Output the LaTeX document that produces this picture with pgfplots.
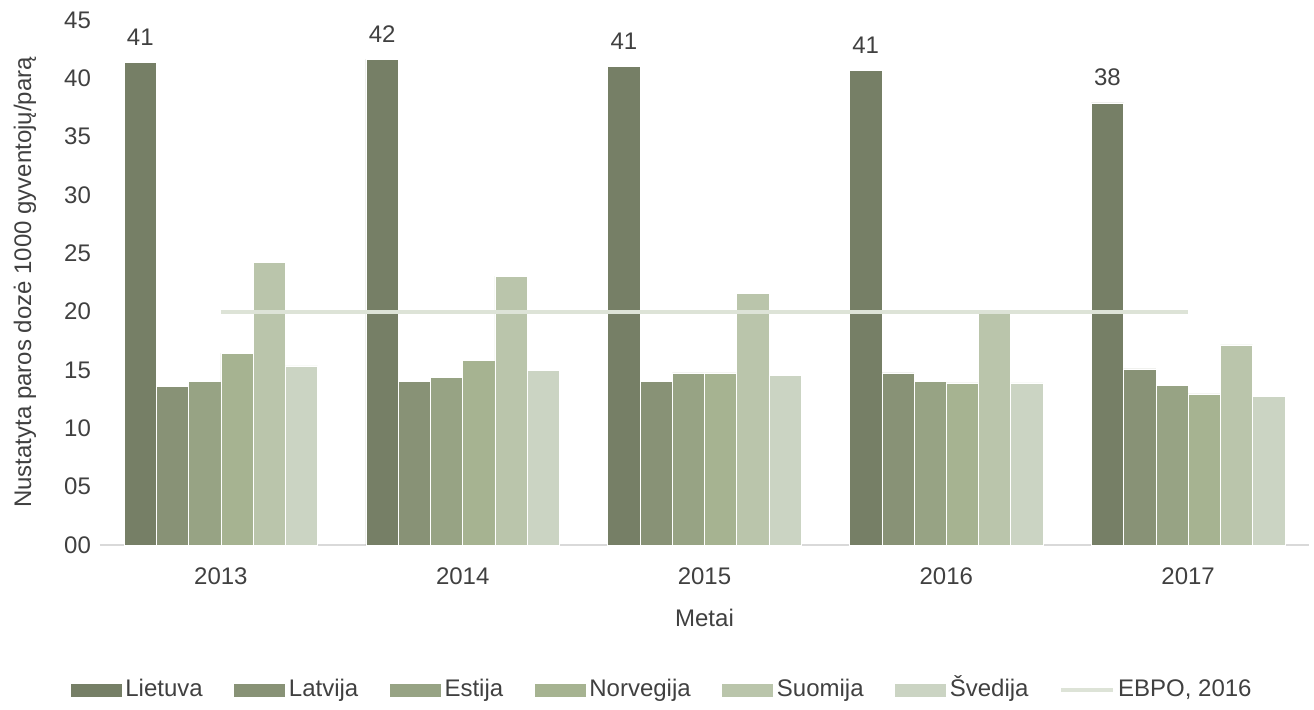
\documentclass[border=0pt]{standalone}
\usepackage{pgfplots}
\pgfplotsset{compat=1.18}
\usepackage{pgfplotstable}
\usepackage{fontspec}
\setmainfont{Liberation Sans}
\definecolor{cLt}{HTML}{767F66}
\definecolor{cLv}{HTML}{889276}
\definecolor{cEe}{HTML}{97A384}
\definecolor{cNo}{HTML}{A6B391}
\definecolor{cFi}{HTML}{BAC5AB}
\definecolor{cSe}{HTML}{CBD4C3}
\definecolor{cLine}{HTML}{DDE3D7}
\definecolor{cAxis}{HTML}{D9D9D9}
\definecolor{cText}{HTML}{404040}
\pgfplotsset{
  barlegend/.style={legend image code/.code={\fill[##1] (0pt,-3.5pt) rectangle (26pt,3.5pt);}},
  linelegend/.style={legend image code/.code={\draw[##1] (0pt,0pt) -- (26pt,0pt);}},
}
\pgfplotstableread{
x Lt Lv Ee No Fi Se Ebpo
0 41.4 13.6 14.0 16.45 24.2 15.35 20
1 41.65 14.05 14.4 15.85 23.05 15.0 20
2 41.05 14.05 14.75 14.75 21.6 14.55 20
3 40.7 14.75 14.05 13.9 20.05 13.9 20
4 37.9 15.1 13.7 12.95 17.15 12.75 20
}\datatable
\begin{document}
\begin{tikzpicture}
\begin{axis}[
  name=ax,
  scale only axis,
  width=604.5pt, height=262.5pt,
  font=\fontsize{12}{14}\selectfont,
  every tick label/.append style={text=cText},
  xmin=-0.5, xmax=4.5, ymin=0, ymax=45,
  xtick={0,1,2,3,4},
  xticklabels={2013,2014,2015,2016,2017},
  ytick={0,5,...,45},
  yticklabels={00,05,10,15,20,25,30,35,40,45},
  major tick length=0pt,
  axis x line*=bottom,
  axis y line*=left,
  x axis line style={draw=cAxis, line width=1pt, -},
  y axis line style={draw=none},
  xticklabel style={yshift=-8pt},
  yticklabel style={xshift=-1pt},
  xlabel={Metai},
  ylabel={Nustatyta paros dozė 1000 gyventojų/parą},
  label style={text=cText},
  xlabel style={at={([yshift=-36.5pt]axis description cs:0.5,0)}, anchor=center},
  ylabel style={at={([xshift=-37.5pt]axis description cs:0,0.5)}, anchor=center},
  clip=false,
  bar width=0.1333,
  legend columns=7,
  legend style={at={([yshift=-72.5pt]axis description cs:0.465,0)}, anchor=center,
    draw=none, fill=none, font=\fontsize{12}{14}\selectfont, text=cText,
    /tikz/every even column/.append style={column sep=13.8pt},
    nodes={inner sep=1.5pt, text height=1.8ex, text depth=0.5ex}},
  barlegend,
]
\addplot[ybar, bar shift=-0.3333, fill=cLt, draw=white, line width=0.3pt,
  nodes near coords={\pgfmathprintnumber[fixed,precision=0,assume math mode=true]{\pgfplotspointmeta}},
  nodes near coords style={text=cText, xshift=-40.3pt, yshift=5pt, font=\fontsize{12}{14}\selectfont}]
  table[x=x,y=Lt]{\datatable};
\addlegendentry{Lietuva}
\addplot[ybar, bar shift=-0.2, fill=cLv, draw=white, line width=0.3pt] table[x=x,y=Lv]{\datatable};
\addlegendentry{Latvija}
\addplot[ybar, bar shift=-0.0667, fill=cEe, draw=white, line width=0.3pt] table[x=x,y=Ee]{\datatable};
\addlegendentry{Estija}
\addplot[ybar, bar shift=0.0667, fill=cNo, draw=white, line width=0.3pt] table[x=x,y=No]{\datatable};
\addlegendentry{Norvegija}
\addplot[ybar, bar shift=0.2, fill=cFi, draw=white, line width=0.3pt] table[x=x,y=Fi]{\datatable};
\addlegendentry{Suomija}
\addplot[ybar, bar shift=0.3333, fill=cSe, draw=white, line width=0.3pt] table[x=x,y=Se]{\datatable};
\addlegendentry{Švedija}
\addplot[sharp plot, draw=cLine, line width=2pt, mark=none, linelegend] table[x=x,y=Ebpo]{\datatable};
\addlegendentry{EBPO, 2016}
\end{axis}
\pgfresetboundingbox
\path ([xshift=-50pt,yshift=-82pt]ax.south west) rectangle ([xshift=607pt,yshift=272.5pt]ax.south west);
\end{tikzpicture}
\end{document}
